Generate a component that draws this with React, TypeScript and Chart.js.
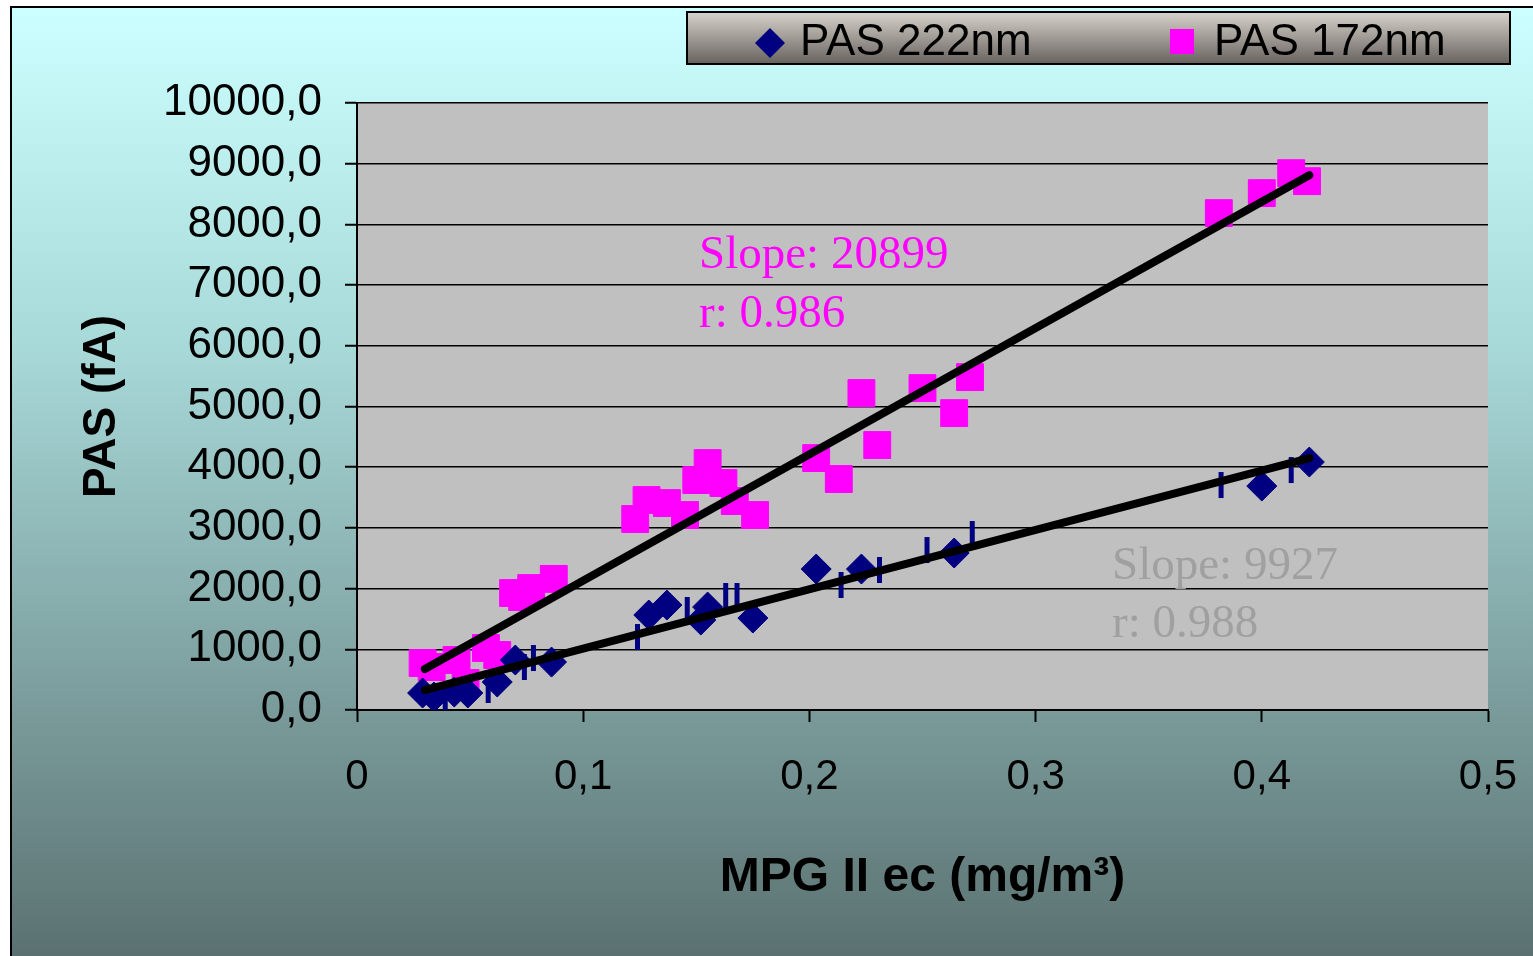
import { useEffect, useRef } from "react";
import { Chart, registerables } from "chart.js";

Chart.register(...registerables);

// PAS 172nm (magenta squares)
const pas172X = [0.029, 0.033, 0.044, 0.048, 0.057, 0.062, 0.069, 0.073, 0.077, 0.087, 0.123, 0.128, 0.137, 0.145, 0.150, 0.155, 0.162, 0.167, 0.176, 0.203, 0.213, 0.223, 0.230, 0.250, 0.264, 0.271, 0.381, 0.400, 0.413, 0.420];
const pas172Y = [774, 708, 823, 445, 1021, 906, 1927, 1861, 2009, 2160, 3146, 3459, 3409, 3212, 3788, 4068, 3739, 3442, 3212, 4150, 3805, 5221, 4365, 5303, 4891, 5484, 8186, 8515, 8844, 8712];

// PAS 222nm (navy diamonds)
const pas222X = [0.029, 0.034, 0.043, 0.049, 0.062, 0.070, 0.086, 0.129, 0.137, 0.152, 0.155, 0.175, 0.203, 0.223, 0.264, 0.400, 0.421];
const pas222Y = [280, 214, 296, 280, 461, 823, 790, 1565, 1729, 1482, 1696, 1515, 2322, 2322, 2586, 3689, 4085];

// vertical bar markers (navy)
const barX = [0.034, 0.039, 0.058, 0.074, 0.078, 0.124, 0.146, 0.163, 0.168, 0.214, 0.231, 0.252, 0.272, 0.382, 0.413];
const barY = [214, 214, 329, 708, 856, 1202, 1647, 1878, 1878, 2059, 2306, 2635, 2899, 3706, 3953];

// trend lines
const trend172X = [0.030, 0.421];
const trend172Y = [675, 8811];
const trend222X = [0.030, 0.421];
const trend222Y = [329, 4150];

const seriesLabels = ["PAS 222nm", "PAS 172nm"];
const xTitle = "MPG II ec (mg/m³)";
const yTitle = "PAS (fA)";

const annotations = [
  { text: "Slope: 20899", x: 0.1512, y: 7280, color: "#ff00ff" },
  { text: "r: 0.986", x: 0.1512, y: 6308, color: "#ff00ff" },
  { text: "Slope: 9927", x: 0.3338, y: 2158, color: "#a0a0a0" },
  { text: "r: 0.988", x: 0.3338, y: 1202, color: "#a0a0a0" },
];

const NAVY = "#000080";
const MAGENTA = "#ff00ff";
const SANS = "'Liberation Sans', Arial, sans-serif";
const SERIF = "'Liberation Serif', 'Times New Roman', serif";

const zip = (xs: number[], ys: number[]) => xs.map((x, i) => ({ x, y: ys[i] }));

const backgroundPlugin = {
  id: "bgPlugin",
  beforeDraw(chart: any) {
    const { ctx, width, height, chartArea } = chart;
    ctx.save();
    ctx.fillStyle = "#ffffff";
    ctx.fillRect(0, 0, width, height);
    const g = ctx.createLinearGradient(0, 7, 0, height);
    g.addColorStop(0, "#ccffff");
    g.addColorStop(0.35, "#a9dada");
    g.addColorStop(1, "#5b7171");
    ctx.fillStyle = g;
    ctx.fillRect(11, 7, width - 11, height - 7);
    ctx.strokeStyle = "#000";
    ctx.lineWidth = 2;
    ctx.beginPath();
    ctx.moveTo(11, height);
    ctx.lineTo(11, 7);
    ctx.lineTo(width, 7);
    ctx.stroke();
    ctx.fillStyle = "#c0c0c0";
    ctx.fillRect(chartArea.left, chartArea.top, chartArea.right - chartArea.left, chartArea.bottom - chartArea.top);
    ctx.restore();
  },
};

const overlayPlugin = {
  id: "overlayPlugin",
  afterDraw(chart: any) {
    const { ctx, scales } = chart;
    ctx.save();
    // annotations
    ctx.font = `47px ${SERIF}`;
    ctx.textAlign = "left";
    ctx.textBaseline = "alphabetic";
    for (const a of annotations) {
      ctx.fillStyle = a.color;
      ctx.fillText(a.text, scales.x.getPixelForValue(a.x), scales.y.getPixelForValue(a.y));
    }
    // legend box
    const bx = 687, by = 12, bw = 823, bh = 52;
    const g = ctx.createLinearGradient(0, by, 0, by + bh);
    g.addColorStop(0, "#d8d2cc");
    g.addColorStop(0.5, "#a09a95");
    g.addColorStop(1, "#66625e");
    ctx.fillStyle = g;
    ctx.fillRect(bx, by, bw, bh);
    ctx.strokeStyle = "#000";
    ctx.lineWidth = 2;
    ctx.strokeRect(bx, by, bw, bh);
    // diamond
    ctx.fillStyle = NAVY;
    ctx.beginPath();
    const dx = 770, dy = 43, r = 15;
    ctx.moveTo(dx, dy - r);
    ctx.lineTo(dx + r, dy);
    ctx.lineTo(dx, dy + r);
    ctx.lineTo(dx - r, dy);
    ctx.closePath();
    ctx.fill();
    // square
    ctx.fillStyle = MAGENTA;
    ctx.fillRect(1170, 29, 24, 25);
    ctx.fillStyle = "#000";
    ctx.font = `44px ${SANS}`;
    ctx.textBaseline = "alphabetic";
    ctx.fillText(seriesLabels[0], 800, 55);
    ctx.fillText(seriesLabels[1], 1214, 55);
    ctx.restore();
  },
};

export default function App() {
  const ref = useRef<HTMLCanvasElement>(null);
  useEffect(() => {
    const canvas = ref.current;
    if (!canvas) return;
    const chart = new Chart(canvas, {
      type: "scatter",
      data: {
        datasets: [
          {
            label: "trend172",
            data: zip(trend172X, trend172Y),
            showLine: true,
            borderColor: "#000",
            borderWidth: 8,
            borderCapStyle: "round",
            pointRadius: 0,
            order: 0,
          } as any,
          {
            label: "trend222",
            data: zip(trend222X, trend222Y),
            showLine: true,
            borderColor: "#000",
            borderWidth: 8,
            borderCapStyle: "round",
            pointRadius: 0,
            order: 0,
          } as any,
          {
            label: "bars",
            data: zip(barX, barY),
            pointStyle: "line",
            rotation: 90,
            pointRadius: 13,
            borderColor: NAVY,
            backgroundColor: NAVY,
            borderWidth: 5,
            order: 1,
          } as any,
          {
            label: seriesLabels[0],
            data: zip(pas222X, pas222Y),
            pointStyle: "rectRot",
            pointRadius: 15,
            backgroundColor: NAVY,
            borderColor: NAVY,
            borderWidth: 1,
            order: 2,
          },
          {
            label: seriesLabels[1],
            data: zip(pas172X, pas172Y),
            pointStyle: "rect",
            pointRadius: 19,
            backgroundColor: MAGENTA,
            borderColor: MAGENTA,
            borderWidth: 1,
            order: 3,
          },
        ],
      },
      options: {
        animation: false,
        responsive: false,
        devicePixelRatio: 1,
        layout: { padding: { top: 103, right: 45, left: 0, bottom: 0 } },
        plugins: { legend: { display: false }, tooltip: { enabled: false } },
        scales: {
          x: {
            type: "linear",
            min: 0,
            max: 0.5,
            afterFit: (s: any) => {
              s.height = 246;
              s.paddingLeft = 0;
              s.paddingRight = 0;
            },
            ticks: {
              stepSize: 0.1,
              color: "#000",
              font: { family: SANS, size: 42 },
              padding: 30,
              maxRotation: 0,
              callback: (v: any) => (Number(v) === 0 ? "0" : String(Math.round(Number(v) * 10) / 10).replace(".", ",")),
            },
            grid: { drawOnChartArea: false, drawTicks: true, tickLength: 12, tickColor: "#000", tickWidth: 2 },
            border: { display: true, color: "#000", width: 2 },
            title: {
              display: true,
              text: xTitle,
              color: "#000",
              font: { family: SANS, size: 48, weight: "bold" },
              padding: { top: 0, bottom: 49 },
            },
          },
          y: {
            type: "linear",
            min: 0,
            max: 10000,
            afterFit: (s: any) => {
              s.width = 357;
              s.paddingTop = 0;
              s.paddingBottom = 0;
            },
            ticks: {
              stepSize: 1000,
              color: "#000",
              font: { family: SANS, size: 44 },
              padding: 23,
              callback: (v: any) => Number(v).toFixed(1).replace(".", ","),
            },
            grid: { color: "#000", lineWidth: 1.5, drawTicks: true, tickLength: 12, tickColor: "#000", tickWidth: 2 },
            border: { display: true, color: "#000", width: 2 },
            title: {
              display: true,
              text: yTitle,
              color: "#000",
              font: { family: SANS, size: 46, weight: "bold" },
              padding: { top: 75, bottom: 0 },
            },
          },
        },
      },
      plugins: [backgroundPlugin, overlayPlugin],
    } as any);
    return () => chart.destroy();
  }, []);
  return (
    <div style={{ position: "absolute", left: 0, top: 0, width: 1533, height: 956 }}>
      <canvas ref={ref} width={1533} height={956} style={{ display: "block" }} />
    </div>
  );
}
